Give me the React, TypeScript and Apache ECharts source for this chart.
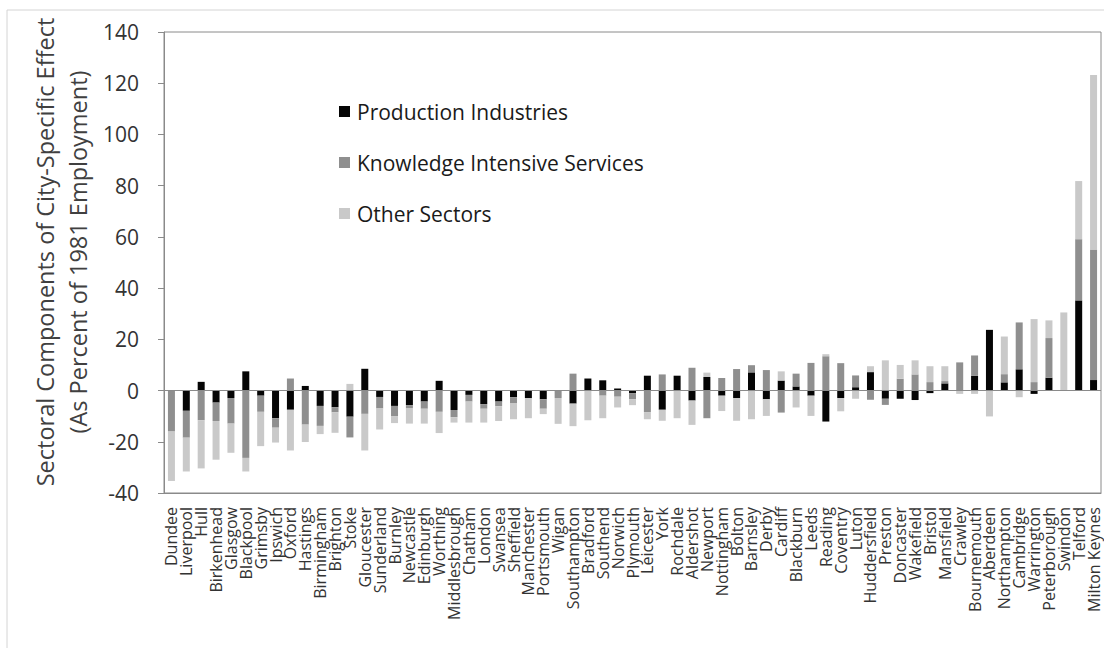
import React, { useEffect, useRef } from "react";
import * as echarts from "echarts";

const cities = [
  "Dundee", "Liverpool", "Hull", "Birkenhead", "Glasgow", "Blackpool", "Grimsby", "Ipswich", "Oxford",
  "Hastings", "Birmingham", "Brighton", "Stoke", "Gloucester", "Sunderland", "Burnley", "Newcastle",
  "Edinburgh", "Worthing", "Middlesbrough", "Chatham", "London", "Swansea", "Sheffield", "Manchester",
  "Portsmouth", "Wigan", "Southampton", "Bradford", "Southend", "Norwich", "Plymouth", "Leicester",
  "York", "Rochdale", "Aldershot", "Newport", "Nottingham", "Bolton", "Barnsley", "Derby", "Cardiff",
  "Blackburn", "Leeds", "Reading", "Coventry", "Luton", "Huddersfield", "Preston", "Doncaster",
  "Wakefield", "Bristol", "Mansfield", "Crawley", "Bournemouth", "Aberdeen", "Northampton", "Cambridge",
  "Warrington", "Peterborough", "Swindon", "Telford", "Milton Keynes",
];

const production = [
  0, -7.9, 3.4, -4.7, -2.9, 7.5, -2, -10.8, -7.5,
  1.8, -6, -6.5, -10.2, 8.5, -2.5, -6, -5.7,
  -4.3, 3.8, -7.6, -1.7, -5.3, -4.3, -2.6, -3,
  -3.4, 0, -5.1, 4.7, 4, 0.8, -1, 5.8,
  -7.5, 5.8, -3.9, 5.3, -2, -2.9, 7.1, -3.4, 3.9,
  1.6, -2, -12.1, -2.9, 1.3, 7.2, -3.2, -3.2,
  -3.7, -1, 2.8, 0, 5.8, 23.7, 3.2, 8.3,
  -1.3, 5, 0, 35.2, 4.1,
];

const knowledge = [
  -16, -10.5, -11.6, -7.2, -10, -26.3, -6.3, -3.7, 4.7,
  -13.3, -7.8, -2, -8.1, -9.1, -4.5, -4.1, -1.3,
  -2.8, -8.3, -2.8, -2.6, -1.8, -1.8, -2.3, 0,
  -3.7, -2.9, 6.6, 0, -2, -2.4, -2.4, -8.4,
  6.3, 0, 8.9, -10.8, 4.9, 8.4, 2.8, 8, -8.6,
  5, 10.8, 13.4, 10.7, 4.6, -3.6, -2.4, 4.6,
  6.3, 3.3, 0.9, 11, 7.9, 0, 3.2, 18.3,
  3.3, 15.5, 0, 23.9, 51,
];

const other = [
  -19.3, -13.2, -18.8, -15.1, -11.4, -5.3, -13.4, -5.8, -15.9,
  -6.8, -3.2, -8, 2.6, -14.3, -8.2, -2.6, -5.9,
  -5.8, -8.3, -2.1, -8.2, -5.4, -5.8, -6.3, -7.8,
  -2.1, -10.1, -8.8, -11.6, -8.8, -4.2, -2.3, -2.8,
  -4.3, -10.8, -9.5, 1.7, -6, -8.9, -11.2, -6.5, 3.6,
  -6.6, -7.9, 0.8, -5.2, -3.2, 2.3, 11.8, 5.4,
  5.5, 6.2, 5.8, -1.3, -1.3, -10.1, 14.7, -2.6,
  24.6, 6.9, 30.5, 22.7, 68.1,
];

const seriesNames = ["Production Industries", "Knowledge Intensive Services", "Other Sectors"];
const seriesColors = ["#050505", "#8f8f8f", "#c9c9c9"];

const yTitle1 = "Sectoral Components of City-Specific Effect";
const yTitle2 = "(As Percent of 1981 Employment)";

const FONT = "'Open Sans', 'Noto Sans', sans-serif";

export default function App() {
  const ref = useRef<HTMLDivElement>(null);

  useEffect(() => {
    if (!ref.current) return;
    const chart = echarts.init(ref.current, undefined, { renderer: "svg" });
    const dataSets = [production, knowledge, other];
    chart.setOption({
      animation: false,
      backgroundColor: "#ffffff",
      textStyle: { fontFamily: FONT },
      grid: {
        left: 164,
        top: 32,
        width: 937,
        height: 461,
        show: true,
        borderColor: "#8a8a8a",
        borderWidth: 1,
        containLabel: false,
      },
      legend: {
        orient: "vertical",
        left: 334,
        top: 96,
        itemWidth: 11,
        itemHeight: 11,
        itemGap: 30,
        icon: "rect",
        textStyle: { fontSize: 21, color: "#1a1a1a", fontFamily: FONT, padding: [0, 0, 0, 2] },
        data: seriesNames,
      },
      xAxis: {
        type: "category",
        data: cities,
        axisLine: { onZero: false, lineStyle: { color: "#8a8a8a" } },
        axisTick: { show: false },
        axisLabel: {
          interval: 0,
          rotate: 90,
          fontSize: 16,
          margin: 14,
          color: "#333333",
          fontFamily: FONT,
        },
      },
      yAxis: {
        type: "value",
        min: -40,
        max: 140,
        interval: 20,
        axisLine: { show: true, lineStyle: { color: "#8a8a8a" } },
        axisTick: { show: true, inside: false, length: 6, lineStyle: { color: "#8a8a8a" } },
        splitLine: { show: false },
        axisLabel: { fontSize: 21, color: "#333333", margin: 25, fontFamily: FONT },
      },
      graphic: [
        {
          type: "rect",
          silent: true,
          shape: { x: 7, y: 10, width: 1200, height: 700 },
          style: { fill: "none", stroke: "#d4d4d4", lineWidth: 1 },
        },
        {
          type: "text",
          x: 45,
          y: 252,
          rotation: Math.PI / 2,
          style: {
            text: yTitle1,
            font: "23.5px " + FONT,
            fill: "#404040",
            align: "center",
            verticalAlign: "middle",
            textAlign: "center",
            textVerticalAlign: "middle",
          },
        },
        {
          type: "text",
          x: 78,
          y: 252,
          rotation: Math.PI / 2,
          style: {
            text: yTitle2,
            font: "23.5px " + FONT,
            fill: "#404040",
            align: "center",
            verticalAlign: "middle",
            textAlign: "center",
            textVerticalAlign: "middle",
          },
        },
      ],
      series: seriesNames.map((name, i) => ({
        name,
        type: "bar",
        stack: "total",
        barWidth: 7,
        data: dataSets[i],
        itemStyle: { color: seriesColors[i] },
        ...(i === 0
          ? {
              markLine: {
                silent: true,
                symbol: "none",
                label: { show: false },
                lineStyle: { color: "#8a8a8a", type: "solid", width: 1 },
                data: [{ yAxis: 0 }],
              },
            }
          : {}),
      })),
    });
    return () => chart.dispose();
  }, []);

  return (
    <div
      ref={ref}
      style={{ position: "fixed", left: 0, top: 0, width: 1104, height: 648, background: "#fff" }}
    />
  );
}
